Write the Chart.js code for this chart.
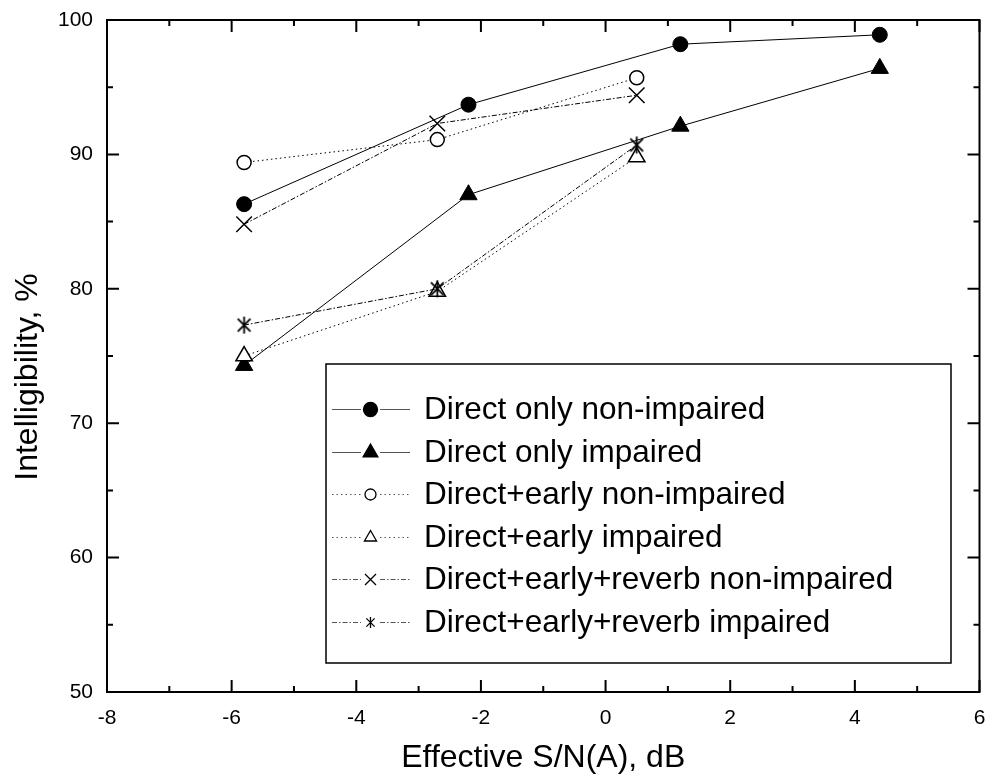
<!DOCTYPE html>
<html>
<head>
<meta charset="utf-8">
<script src="https://cdn.jsdelivr.net/npm/chart.js@4/dist/chart.umd.min.js"></script>
<style>
  html, body { margin: 0; padding: 0; background: #fff; }
  #wrap { width: 992px; height: 781px; }
</style>
</head>
<body>
<div id="wrap"><canvas id="chart"></canvas></div>
<script>
// S/N values for each condition group
const snrDirect = [-5.8, -2.2, 1.2, 4.4];
const snrEarly = [-5.8, -2.7, 0.5];

// intelligibility scores, %
const directNonImpaired = [86.3, 93.7, 98.2, 98.9];
const directImpaired = [74.3, 87.0, 92.1, 96.4];
const earlyNonImpaired = [89.4, 91.1, 95.7];
const earlyImpaired = [75.0, 79.8, 89.8];
const reverbNonImpaired = [84.8, 92.3, 94.4];
const reverbImpaired = [77.3, 80.0, 90.7];

const seriesNames = [
  "Direct only non-impaired",
  "Direct only impaired",
  "Direct+early non-impaired",
  "Direct+early impaired",
  "Direct+early+reverb non-impaired",
  "Direct+early+reverb impaired"
];

const yTitle = "Intelligibility, %";

const FONT = "'Liberation Sans', Arial, sans-serif";

// asterisk marker: vertical bar plus an X
function makeAsterisk(size, lw) {
  const c = document.createElement("canvas");
  c.width = size; c.height = size;
  const g = c.getContext("2d");
  const m = size / 2, r = size / 2 - 1, d = r * 0.75;
  g.strokeStyle = "#000";
  g.lineWidth = lw;
  g.beginPath();
  g.moveTo(m, m - r); g.lineTo(m, m + r);
  g.moveTo(m - d, m - d); g.lineTo(m + d, m + d);
  g.moveTo(m - d, m + d); g.lineTo(m + d, m - d);
  g.stroke();
  return c;
}
const asterisk = makeAsterisk(19, 1.8);
const asteriskSmall = makeAsterisk(13, 1.3);

const toPoints = (xs, ys) => xs.map((x, i) => ({ x: x, y: ys[i] }));

const dotted = [1.5, 3];
const dashDot = [5, 2, 1.5, 2];

const datasets = [
  { label: seriesNames[0], data: toPoints(snrDirect, directNonImpaired),
    pointStyle: "circle", pointRadius: 7.5, backgroundColor: "#000", borderDash: [], order: 6 },
  { label: seriesNames[1], data: toPoints(snrDirect, directImpaired),
    pointStyle: "triangle", pointRadius: 10, backgroundColor: "#000", borderDash: [], order: 5 },
  { label: seriesNames[2], data: toPoints(snrEarly, earlyNonImpaired),
    pointStyle: "circle", pointRadius: 7, backgroundColor: "#fff", borderDash: dotted, order: 4 },
  { label: seriesNames[3], data: toPoints(snrEarly, earlyImpaired),
    pointStyle: "triangle", pointRadius: 9.5, backgroundColor: "#fff", borderDash: dotted, order: 3 },
  { label: seriesNames[4], data: toPoints(snrEarly, reverbNonImpaired),
    pointStyle: "crossRot", pointRadius: 11, backgroundColor: "#fff", borderDash: dashDot, order: 2 },
  { label: seriesNames[5], data: toPoints(snrEarly, reverbImpaired),
    pointStyle: asterisk, pointRadius: 9, backgroundColor: "#fff", borderDash: dashDot, order: 1 }
].map(ds => Object.assign({
  showLine: true,
  borderColor: "#000",
  borderWidth: 1,
  pointBorderColor: "#000",
  pointBackgroundColor: ds.backgroundColor,
  pointBorderWidth: ds.backgroundColor === "#000" ? 1 : 1.5,
  pointHoverRadius: ds.pointRadius,
  tension: 0
}, ds));

// frame with inward ticks on all four sides, plus the rotated y title
const framePlugin = {
  id: "frame",
  afterDatasetsDraw(chart) {
    const { ctx, chartArea: a, scales: { x, y } } = chart;
    ctx.save();
    ctx.strokeStyle = "#000";
    ctx.lineWidth = 2;
    ctx.strokeRect(a.left, a.top, a.right - a.left, a.bottom - a.top);
    for (let v = x.min; v <= x.max; v += 1) {
      const px = x.getPixelForValue(v);
      const len = v % 2 === 0 ? 12 : 6;
      ctx.beginPath();
      ctx.moveTo(px, a.bottom); ctx.lineTo(px, a.bottom - len);
      ctx.moveTo(px, a.top); ctx.lineTo(px, a.top + len);
      ctx.stroke();
    }
    for (let v = y.min; v <= y.max; v += 5) {
      const py = y.getPixelForValue(v);
      const len = v % 10 === 0 ? 12 : 6;
      ctx.beginPath();
      ctx.moveTo(a.left, py); ctx.lineTo(a.left + len, py);
      ctx.moveTo(a.right, py); ctx.lineTo(a.right - len, py);
      ctx.stroke();
    }

    ctx.translate(28, (a.top + a.bottom) / 2 + 21);
    ctx.rotate(-Math.PI / 2);
    ctx.fillStyle = "#000";
    ctx.font = "32px " + FONT;
    ctx.textAlign = "center";
    ctx.textBaseline = "middle";
    ctx.fillText(yTitle, 0, 0);
    ctx.restore();
  }
};

function legendMarker(ctx, ds, cx, cy) {
  const style = ds.pointStyle;
  ctx.fillStyle = ds.pointBackgroundColor;
  ctx.strokeStyle = "#000";
  ctx.lineWidth = 1.3;
  const filled = ds.pointBackgroundColor === "#000";
  if (style === "circle") {
    const r = filled ? 7 : 5.5;
    ctx.beginPath();
    ctx.arc(cx, cy, r, 0, Math.PI * 2);
    ctx.fill(); ctx.stroke();
  } else if (style === "triangle") {
    const r = filled ? 8.5 : 7;
    ctx.beginPath();
    ctx.moveTo(cx, cy - r);
    ctx.lineTo(cx + r * 0.866, cy + r * 0.5);
    ctx.lineTo(cx - r * 0.866, cy + r * 0.5);
    ctx.closePath();
    ctx.fill(); ctx.stroke();
  } else if (style === "crossRot") {
    const d = 5.5;
    ctx.beginPath();
    ctx.moveTo(cx - d, cy - d); ctx.lineTo(cx + d, cy + d);
    ctx.moveTo(cx - d, cy + d); ctx.lineTo(cx + d, cy - d);
    ctx.stroke();
  } else {
    ctx.drawImage(asteriskSmall, cx - asteriskSmall.width / 2, cy - asteriskSmall.height / 2);
  }
}

// boxed legend with line samples and markers
const boxLegendPlugin = {
  id: "boxLegend",
  afterDraw(chart) {
    const ctx = chart.ctx;
    const box = { left: 326, top: 364, right: 951, bottom: 663 };
    const rowTop = 409, rowGap = 42.6;
    ctx.save();
    ctx.fillStyle = "#fff";
    ctx.fillRect(box.left, box.top, box.right - box.left, box.bottom - box.top);
    ctx.strokeStyle = "#000";
    ctx.lineWidth = 1.5;
    ctx.strokeRect(box.left, box.top, box.right - box.left, box.bottom - box.top);
    chart.data.datasets.forEach((ds, i) => {
      const cy = Math.round(rowTop + i * rowGap) + 0.5;
      ctx.strokeStyle = "#555";
      ctx.lineWidth = 1;
      ctx.setLineDash(ds.borderDash);
      ctx.beginPath();
      ctx.moveTo(332, cy); ctx.lineTo(361, cy);
      ctx.moveTo(380, cy); ctx.lineTo(410, cy);
      ctx.stroke();
      ctx.setLineDash([]);
      legendMarker(ctx, ds, 370.5, cy);
      ctx.fillStyle = "#000";
      ctx.font = "31.5px " + FONT;
      ctx.textBaseline = "middle";
      ctx.textAlign = "left";
      ctx.fillText(ds.label, 424, cy + 1);
    });
    ctx.restore();
  }
};

new Chart(document.getElementById("chart"), {
  type: "scatter",
  data: { datasets: datasets },
  options: {
    responsive: true,
    maintainAspectRatio: false,
    animation: false,
    layout: { padding: { top: 20, right: 9, left: 0, bottom: 0 } },
    plugins: {
      legend: { display: false },
      tooltip: { enabled: false }
    },
    scales: {
      x: {
        type: "linear",
        min: -8,
        max: 6,
        afterFit: s => { s.height = 89; s.paddingLeft = 0; s.paddingRight = 0; },
        grid: { display: false, drawTicks: false },
        border: { display: false },
        ticks: { stepSize: 2, padding: 14, color: "#000", font: { family: FONT, size: 21 } },
        title: {
          display: true,
          text: "Effective S/N(A), dB",
          color: "#000",
          font: { family: FONT, size: 32 },
          padding: { top: 0, bottom: 4 }
        }
      },
      y: {
        type: "linear",
        min: 50,
        max: 100,
        afterFit: s => { s.width = 107; s.paddingTop = 0; s.paddingBottom = 0; },
        grid: { display: false, drawTicks: false },
        border: { display: false },
        ticks: { stepSize: 10, padding: 14, color: "#000", font: { family: FONT, size: 21 } }
      }
    }
  },
  plugins: [framePlugin, boxLegendPlugin]
});
</script>
</body>
</html>
